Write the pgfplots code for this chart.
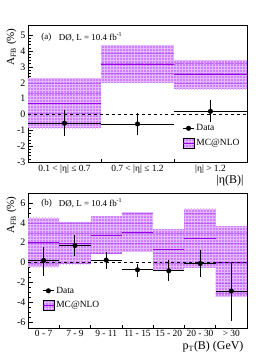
\documentclass[border=0pt]{standalone}
\usepackage{fontspec}
\setmainfont{Liberation Serif}
\usepackage{pgfplots}
\pgfplotsset{compat=1.18}
\usetikzlibrary{patterns,patterns.meta}
\definecolor{mcfill}{rgb}{0.80,0.50,1.0}
\definecolor{mcgrid}{rgb}{0.90,0.72,1.0}
\definecolor{mcline}{rgb}{0.60,0.0,0.90}
\definecolor{mcstripe}{rgb}{0.68,0.25,0.95}
\pgfplotsset{
  rootstyle/.style={
    scale only axis, width=219bp,
    axis line style={line width=0.8bp},
    tick style={black, line width=0.6bp},
    xtick pos=bottom, ytick pos=left,
    tick align=inside,
    major tick length=5bp, minor tick length=3bp,
    /pgf/number format/assume math mode=true,
    yticklabel style={font=\fontsize{10}{11}\selectfont, xshift=1bp},
    xticklabel style={font=\fontsize{9.5}{11}\selectfont},
    major x tick style={draw=none},
    legend cell align=left,
    legend style={draw=none, fill=none, font=\fontsize{9.5}{11}\selectfont, row sep=3bp, inner sep=0pt},
    ylabel style={font=\fontsize{11}{12}\selectfont, anchor=east, at={(axis description cs:-0.075,1)}},
    xlabel style={font=\fontsize{12}{13}\selectfont, anchor=north east, at={(axis description cs:1,0)}},
  },
  band/.style={draw=none, fill=mcfill,
    postaction={pattern=grid, pattern color=mcgrid},
    postaction={pattern={Lines[angle=0, distance=10bp, line width=0.6bp]}, pattern color=mcstripe},
    forget plot},
}
\newcommand{\dataleg}{\addlegendimage{legend image code/.code={\draw[black, line width=0.9bp] (0bp,0bp)--(11bp,0bp); \fill[black] (5.5bp,0bp) circle (2.3bp);}}}
\newcommand{\mcleg}{\addlegendimage{legend image code/.code={\fill[mcfill] (0bp,-5bp) rectangle (11bp,5bp); \pattern[pattern=grid, pattern color=mcgrid] (0bp,-5bp) rectangle (11bp,5bp); \draw[mcline, line width=0.9bp] (0bp,0bp)--(11bp,0bp);}}}
\begin{document}
\begin{tikzpicture}[x=1bp,y=1bp]
\useasboundingbox (0,0) rectangle (273,353);
% ---------------- top panel
\begin{axis}[rootstyle, at={(28bp,191bp)}, anchor=south west, height=137bp,
  xmin=0, xmax=3, ymin=-3, ymax=5.65,
  ytick={-3,-2,...,5}, minor y tick num=4,
  xtick={0.5,1.5,2.5}, xticklabels={0.1 < |η| ≤ 0.7, 0.7 < |η| ≤ 1.2, |η| > 1.2},
  minor xtick={1,2},
  xticklabel style={yshift=1bp},
  ylabel={A\textsubscript{FB} (\%)},
  xlabel={|η(B)|}, xlabel style={yshift=-10bp},
  legend style={at={(0.705,0.29)}, anchor=north west},
  unbounded coords=jump,
]
\addplot[band] coordinates {(0,-0.88)(1,-0.88)(1,2.27)(0,2.27)} -- cycle;
\addplot[band] coordinates {(1,2.0)(2,2.0)(2,4.38)(1,4.38)} -- cycle;
\addplot[band] coordinates {(2,1.58)(3,1.58)(3,3.41)(2,3.41)} -- cycle;
\addplot[mcline, line width=0.9bp, forget plot] coordinates {(0,0.7)(1,0.7)(1,nan)(1,3.16)(2,3.16)(2,nan)(2,2.5)(3,2.5)};
\addplot[black, dashed, line width=0.8bp, forget plot] coordinates {(0,0)(3,0)};
\addplot[black, only marks, mark=*, mark size=2.3bp, forget plot,
  error bars/.cd, x dir=both, x explicit, y dir=both, y explicit,
  error bar style={line width=0.9bp}, error mark=none]
  table[x=x, y=y, x error=ex, y error plus=eyp, y error minus=eym] {
x   y     ex   eyp  eym
0.5 -0.55 0.5  0.82 0.82
1.5 -0.60 0.5  0.70 0.70
2.5  0.20 0.5  0.70 0.70
};
\dataleg
\addlegendentry{Data}
\mcleg
\addlegendentry{MC@NLO}
\node[anchor=west, font=\fontsize{9}{10}\selectfont] at (axis description cs:0.045,0.912) {(a)};
\node[anchor=west, font=\fontsize{9}{10}\selectfont] at (axis description cs:0.125,0.912) {DØ, L = 10.4 fb\textsuperscript{-1}};
\end{axis}
% ---------------- bottom panel
\begin{axis}[rootstyle, at={(28bp,25bp)}, anchor=south west, height=135bp,
  xmin=0, xmax=7, ymin=-6.6, ymax=7,
  ytick={-6,-4,...,6}, minor y tick num=3,
  xtick={0.5,1.5,...,6.5}, xticklabels={0 - 7, 7 - 9, 9 - 11, 11 - 15, 15 - 20, 20 - 30, > 30},
  minor xtick={1,2,...,6},
  xticklabel style={yshift=1bp},
  ylabel={A\textsubscript{FB} (\%)},
  xlabel={p\textsubscript{T}(B) (GeV)}, xlabel style={yshift=-10bp},
  legend style={at={(0.065,0.32)}, anchor=north west},
  unbounded coords=jump,
]
\addplot[band] coordinates {(0,-0.47)(1,-0.47)(1,4.5)(0,4.5)} -- cycle;
\addplot[band] coordinates {(1,-0.17)(2,-0.17)(2,4.03)(1,4.03)} -- cycle;
\addplot[band] coordinates {(2,0.9)(3,0.9)(3,4.64)(2,4.64)} -- cycle;
\addplot[band] coordinates {(3,1.08)(4,1.08)(4,5.04)(3,5.04)} -- cycle;
\addplot[band] coordinates {(4,-0.67)(5,-0.67)(5,3.36)(4,3.36)} -- cycle;
\addplot[band] coordinates {(5,-0.54)(6,-0.54)(6,5.41)(5,5.41)} -- cycle;
\addplot[band] coordinates {(6,-3.46)(7,-3.46)(7,3.63)(6,3.63)} -- cycle;
\addplot[mcline, line width=0.9bp, forget plot] coordinates {
(0,2.05)(1,2.05)(1,nan)(1,1.9)(2,1.9)(2,nan)(2,2.76)(3,2.76)(3,nan)(3,3.06)(4,3.06)(4,nan)
(4,1.31)(5,1.31)(5,nan)(5,2.42)(6,2.42)(6,nan)(6,0.0)(7,0.0)};
\addplot[black, dashed, line width=0.8bp, forget plot] coordinates {(0,0)(7,0)};
\addplot[black, only marks, mark=*, mark size=2.3bp, forget plot,
  error bars/.cd, x dir=both, x explicit, y dir=both, y explicit,
  error bar style={line width=0.9bp}, error mark=none]
  table[x=x, y=y, x error=ex, y error plus=eyp, y error minus=eym] {
x   y     ex   eyp  eym
0.5  0.2  0.5  1.4  1.55
1.5  1.71 0.5  1.05 1.05
2.5  0.24 0.5  0.8  0.88
3.5 -0.74 0.5  0.55 0.75
4.5 -0.84 0.5  1.05 1.0
5.5 -0.1  0.5  1.35 1.35
6.5 -2.87 0.5  2.95 3.0
};
\dataleg
\addlegendentry{Data}
\mcleg
\addlegendentry{MC@NLO}
\node[anchor=west, font=\fontsize{9}{10}\selectfont] at (axis description cs:0.045,0.926) {(b)};
\node[anchor=west, font=\fontsize{9}{10}\selectfont] at (axis description cs:0.125,0.926) {DØ, L = 10.4 fb\textsuperscript{-1}};
\end{axis}
\end{tikzpicture}
\end{document}
